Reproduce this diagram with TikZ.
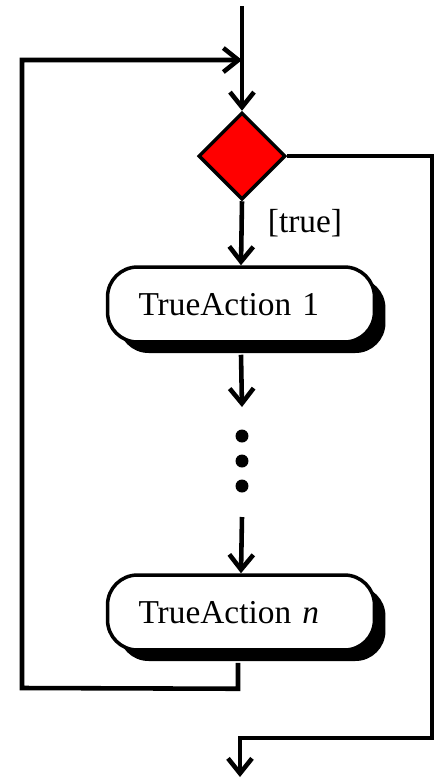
\documentclass[tikz,border=0pt]{standalone}
\usepackage{fontspec}
\setmainfont{Liberation Serif}
\usetikzlibrary{arrows.meta,shapes.geometric,shadows}
\tikzset{
  flow/.style={line width=2.6pt, line join=miter},
  arr/.style={flow, -{Straight Barb[length=0.3cm,width=0.48cm]}},
  decision/.style={diamond, draw, line width=2pt, fill=red, aspect=1,
    minimum width=1.74cm, minimum height=1.74cm, inner sep=0pt},
  action/.style={rectangle, rounded corners=0.6cm, draw, line width=2pt,
    fill=white, minimum height=1.5cm, text width=4.1cm, inner xsep=0.62cm,
    align=left, font=\fontsize{19}{21}\selectfont,
    general shadow={fill=black, shadow xshift=0.22cm, shadow yshift=-0.22cm}},
  lbl/.style={font=\fontsize{19}{21}\selectfont, inner sep=0pt},
  dot/.style={circle, fill=black, minimum size=0.26cm, inner sep=0pt}
}
\begin{document}
\begin{tikzpicture}[x=0.02cm,y=-0.02cm]
  \useasboundingbox (0,0) rectangle (440,779);

  % nodes
  \node[decision] (dec) at (242,156) {};
  \node[action] (act1) at (241,304.5) {TrueAction 1};
  \node[action] (actn) at (241,612.5) {TrueAction \textit{n}};
  \node[dot] (d1) at (242,436) {};
  \node[dot] (d2) at (242,461) {};
  \node[dot] (d3) at (242,486) {};
  \node[lbl] (truelbl) at (305,223) {[true]};

  % free ends and junctions
  \coordinate (entry) at (242,6);
  \coordinate (join) at (242,60);
  \coordinate (gap1) at (242,407);
  \coordinate (gap2) at (242,517);
  \coordinate (exitend) at (240,777);

  % incoming flow and loop entry
  \draw[flow] (entry) -- (join);
  \draw[arr] (join) -- (dec.north);

  % true branch
  \draw[arr] (dec.south) -- (act1.north);
  \draw[arr] (act1.south) ++(0,11) -- (gap1);
  \draw[arr] (gap2) -- (actn.north);

  % loop back to the decision
  \draw[arr] ([xshift=-0.06cm]actn.south) ++(0,11) -- ++(0,26) -- (22,688) -- (22,60) -- (join);

  % exit branch
  \draw[arr] (dec.east) -- (432,156) -- (432,738) -- (240,738) -- (exitend);
\end{tikzpicture}
\end{document}
